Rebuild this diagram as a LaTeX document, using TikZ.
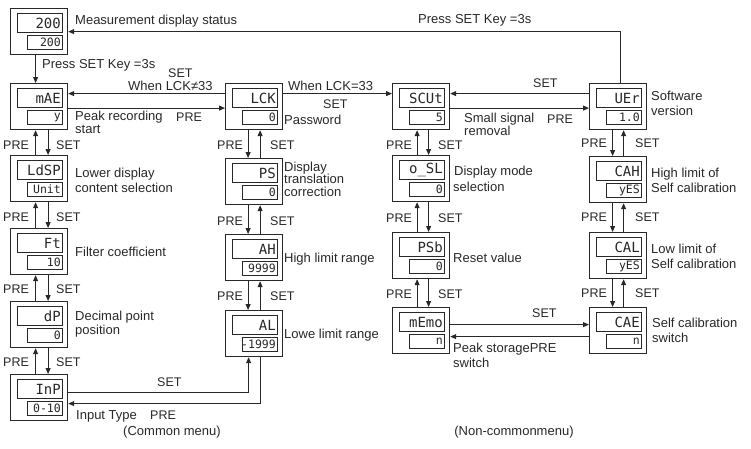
\documentclass[tikz,border=0pt]{standalone}
\usepackage{fontspec}
\setmainfont{Liberation Sans}
\newfontfamily\segfont{DejaVu Sans Mono}
\usetikzlibrary{arrows.meta,calc}
\definecolor{ink}{RGB}{40,40,40}
\tikzset{
  lab/.style={anchor=base west,inner sep=0pt,font=\fontsize{13}{13}\selectfont,text=ink},
  labc/.style={anchor=base,inner sep=0pt,font=\fontsize{13}{13}\selectfont,text=ink},
  key/.style={anchor=base west,inner sep=0pt,font=\fontsize{12.5}{13}\selectfont,text=ink},
  dbox/.style={draw=ink,line width=1.2pt,minimum width=57pt,minimum height=46pt,anchor=north west,inner sep=0pt},
  updisp/.style={draw=ink,line width=1pt,minimum width=45pt,minimum height=19pt,anchor=north west,inner sep=0pt},
  lodisp/.style={draw=ink,line width=1pt,minimum width=35pt,minimum height=14pt,anchor=north west,inner sep=0pt},
  uptxt/.style={anchor=east,inner sep=0pt,font=\segfont\fontsize{14}{14}\selectfont,text=ink},
  lotxt/.style={anchor=east,inner sep=0pt,font=\segfont\fontsize{11.5}{12}\selectfont,text=ink},
  arr/.style={draw=ink,line width=0.9pt,-{Triangle[length=6pt,width=5pt]}},
}
\newcommand\panel[5]{%
  \node[dbox] (#1) at (#2,#3) {};
  \node[updisp] (#1u) at ($(#1.north west)+(7,5)$) {};
  \node[uptxt] (#1ut) at ($(#1u.east)+(-2,0)$) {#4};
  \node[lodisp] (#1l) at ($(#1.north west)+(17,27)$) {};
  \node[lotxt] (#1lt) at ($(#1l.east)+(-2,0)$) {#5};
}
\newcommand\lab[4]{\node[lab] (#1) at (#2,#3) {#4};}
\newcommand\key[4]{\node[key] (#1) at (#2,#3) {#4};}
% upper, lower, shift of upward arrow, shift of downward arrow
\newcommand\vpair[4]{%
  \draw[arr] ([xshift=#3]#2.north) -- ([xshift=#3]#1.south);
  \draw[arr] ([xshift=#4]#1.south) -- ([xshift=#4]#2.north);
}
\begin{document}
\begin{tikzpicture}[x=1pt,y=-1pt]
\useasboundingbox (0,0) rectangle (751,448);
% column 1
\panel{bA}{10}{8}{200}{200}
\panel{bB}{10}{83}{mAE}{y}
\panel{bC}{10}{155}{LdSP}{Unit}
\panel{bD}{10}{228}{Ft}{10}
\panel{bE}{10}{301}{dP}{0}
\panel{bF}{10}{374}{InP}{0-10}
% column 2
\panel{cA}{225}{83}{LCK}{0}
\panel{cB}{225}{158}{PS}{0}
\panel{cC}{225}{234}{AH}{9999}
\panel{cD}{225}{310}{AL}{-1999}
% column 3
\panel{dA}{392}{83}{SCUt}{5}
\panel{dB}{392}{155}{o\_SL}{0}
\panel{dC}{392}{232}{PSb}{0}
\panel{dD}{392}{307}{mEmo}{n}
% column 4
\panel{eA}{589}{83}{UEr}{1.0}
\panel{eB}{589}{156}{CAH}{yES}
\panel{eC}{589}{232}{CAL}{yES}
\panel{eD}{589}{307}{CAE}{n}

% vertical connectors
\draw[arr] ([xshift=-3.5pt]bA.south) -- ([xshift=-3.5pt]bB.north);
\vpair{bB}{bC}{-3.5pt}{9pt}
\vpair{bC}{bD}{-3.5pt}{9pt}
\vpair{bD}{bE}{-3.5pt}{9pt}
\vpair{bE}{bF}{-3.5pt}{9pt}
\vpair{cA}{cB}{6pt}{-6pt}
\vpair{cB}{cC}{6pt}{-6pt}
\vpair{cC}{cD}{6pt}{-6pt}
\vpair{dA}{dB}{-4pt}{7.5pt}
\vpair{dB}{dC}{-4pt}{7.5pt}
\vpair{dC}{dD}{-4pt}{7.5pt}
\vpair{eA}{eB}{5.5pt}{-5.5pt}
\vpair{eB}{eC}{5.5pt}{-5.5pt}
\vpair{eC}{eD}{5.5pt}{-5.5pt}

% horizontal connectors
\draw[arr] ([yshift=13pt]cA.west) -- ([yshift=13pt]bB.east);
\draw[arr] ([yshift=-1.5pt]bB.east) -- ([yshift=-1.5pt]cA.west);
\draw[arr] ([yshift=13pt]cA.east) -- ([yshift=13pt]dA.west);
\draw[arr] ([yshift=13pt]eA.west) -- ([yshift=13pt]dA.east);
\draw[arr] ([yshift=-1.5pt]dA.east) -- ([yshift=-1.5pt]eA.west);
\draw[arr] ([xshift=2.5pt]eA.north) |- (bA.east);
\draw[arr] ([yshift=5pt]bF.east) -| ([xshift=-5.5pt]cD.south);
\draw[arr] ([xshift=6.5pt]cD.south) |- ([yshift=-6pt]bF.east);
\draw[arr] ([yshift=6pt]dD.east) -- ([yshift=6pt]eD.west);
\draw[arr] ([yshift=-6pt]eD.west) -- ([yshift=-6pt]dD.east);

% labels
\lab{t1}{75}{24}{Measurement display status}
\lab{t2}{42}{68}{Press SET Key =3s}
\lab{t3}{418}{23}{Press SET Key =3s}
\key{t4}{168}{77}{SET}
\lab{t5}{128}{90}{When LCK≠33}
\lab{t6}{75}{120}{Peak recording}
\lab{t7}{75}{133}{start}
\key{t8}{176}{121}{PRE}
\lab{t9}{288}{90}{When LCK=33}
\key{t10}{323}{108}{SET}
\lab{t11}{284}{124}{Password}
\key{t12}{533}{87}{SET}
\lab{t13}{464}{122}{Small signal}
\lab{t14}{464}{135}{removal}
\key{t15}{547}{123}{PRE}
\lab{t16}{651}{100}{Software}
\lab{t17}{651}{115}{version}
% column keys
\key{k1}{3}{149}{PRE}\key{k2}{56}{149}{SET}
\key{k3}{3}{221}{PRE}\key{k4}{56}{221}{SET}
\key{k5}{3}{293}{PRE}\key{k6}{56}{293}{SET}
\key{k7}{3}{366}{PRE}\key{k8}{56}{366}{SET}
\key{k9}{217}{149}{PRE}\key{k10}{270}{149}{SET}
\key{k11}{217}{225}{PRE}\key{k12}{270}{225}{SET}
\key{k13}{217}{300}{PRE}\key{k14}{270}{300}{SET}
\key{k15}{386}{149}{PRE}\key{k16}{438}{149}{SET}
\key{k17}{386}{222}{PRE}\key{k18}{438}{222}{SET}
\key{k19}{386}{298}{PRE}\key{k20}{438}{298}{SET}
\key{k21}{581}{147}{PRE}\key{k22}{635}{147}{SET}
\key{k23}{581}{221}{PRE}\key{k24}{635}{221}{SET}
\key{k25}{581}{297}{PRE}\key{k26}{635}{297}{SET}
% column 1 descriptions
\lab{t18}{75}{177}{Lower display}
\lab{t19}{75}{192}{content selection}
\lab{t20}{75}{256}{Filter coefficient}
\lab{t21}{75}{320}{Decimal point}
\lab{t22}{75}{334}{position}
\lab{t23}{76}{419}{Input Type}
\key{t24}{150}{419}{PRE}
\key{t25}{157}{386}{SET}
\node[labc] (t26) at (172,435) {(Common menu)};
% column 2 descriptions
\lab{t27}{284}{171}{Display}
\lab{t28}{284}{183}{translation}
\lab{t29}{284}{196}{correction}
\lab{t30}{284}{262}{High limit range}
\lab{t31}{284}{338}{Lowe limit range}
% column 3 descriptions
\lab{t32}{454}{175}{Display mode}
\lab{t33}{453}{191}{selection}
\lab{t34}{453}{262}{Reset value}
\key{t35}{532}{317}{SET}
\lab{t36}{453}{352}{Peak storagePRE}
\lab{t37}{453}{367}{switch}
\node[labc] (t38) at (514,435) {(Non-commonmenu)};
% column 4 descriptions
\lab{t39}{651}{177}{High limit of}
\lab{t40}{651}{192}{Self calibration}
\lab{t41}{651}{253}{Low limit of}
\lab{t42}{651}{268}{Self calibration}
\lab{t43}{652}{327}{Self calibration}
\lab{t44}{652}{342}{switch}
\end{tikzpicture}
\end{document}
